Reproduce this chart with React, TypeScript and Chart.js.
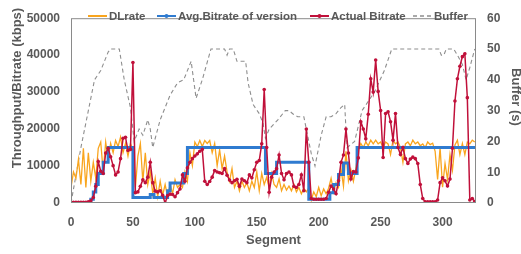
import React, { useEffect, useRef } from "react";
import { Chart, registerables } from "chart.js";

Chart.register(...registerables);

// Segment positions sampled for the noisy series
const segments = [
  0, 2, 4, 6, 8, 10, 12, 14, 16, 18,
  20, 22, 24, 26, 28, 30, 32, 34, 36, 38,
  40, 42, 44, 46, 48, 50, 52, 54, 56, 58,
  60, 62, 64, 66, 68, 70, 72, 74, 76, 78,
  80, 82, 84, 86, 88, 90, 92, 94, 96, 98,
  100, 102, 104, 106, 108, 110, 112, 114, 116, 118,
  120, 122, 124, 126, 128, 130, 132, 134, 136, 138,
  140, 142, 144, 146, 148, 150, 152, 154, 156, 158,
  160, 162, 164, 166, 168, 170, 172, 174, 176, 178,
  180, 182, 184, 186, 188, 190, 192, 194, 196, 198,
  200, 202, 204, 206, 208, 210, 212, 214, 216, 218,
  220, 222, 224, 226, 228, 230, 232, 234, 236, 238,
  240, 242, 244, 246, 248, 250, 252, 254, 256, 258,
  260, 262, 264, 266, 268, 270, 272, 274, 276, 278,
  280, 282, 284, 286, 288, 290, 292, 294, 296, 298,
  300, 302, 304, 306, 308, 310, 312, 314, 316, 318,
  320, 322, 324, 326,
];

// DLrate (kbps)
const dlRate = [
  4200, 8400, 6700, 11800, 5000, 14800, 4200, 13600, 5900, 11000,
  6700, 14800, 16500, 8400, 16500, 11800, 16100, 13600, 16900, 15300,
  17800, 13600, 16100, 12700, 16100, 14400, 4200, 12700, 16100, 5900,
  13600, 5000, 8400, 2500, 6700, 1700, 5900, 2100, 5000, 1700,
  5000, 2500, 6300, 4200, 5000, 4200, 8400, 5900, 13600, 10100,
  16500, 15300, 16900, 15300, 16900, 16100, 16900, 13600, 16100, 10100,
  14400, 9300, 12700, 8400, 5900, 9300, 4200, 5900, 3300, 5900,
  4200, 5500, 3300, 5900, 4200, 8400, 3300, 8000, 5000, 7000,
  4000, 8000, 5000, 4200, 6500, 3300, 5000, 3500, 4600, 3300,
  5000, 3000, 4200, 2500, 4000, 3000, 4000, 800, 3000, 1700,
  4200, 2000, 3800, 2500, 4000, 6700, 3000, 5500, 4200, 9300,
  4500, 14000, 6000, 9000, 5900, 9300, 14400, 16100, 15000, 16500,
  15500, 17000, 16000, 17000, 16000, 16500, 15000, 16500, 16000, 13100,
  17000, 16000, 16500, 15000, 11000, 16000, 16500, 15500, 17000, 16000,
  16500, 15500, 16000, 15000, 16500, 15800, 16200, 14000, 6400, 15000,
  4300, 10700, 6400, 13100, 8900, 15700, 17000, 13100, 16100, 13100,
  16500, 16000, 17000, 16500,
];

// Actual Bitrate (kbps)
const actualBitrate = [
  200, 200, 200, 200, 200, 200, 200, 300, 600, 1500,
  4500, 11200, 8600, 8000, 13500, 14800, 12500, 10100, 7600, 8400,
  12000, 17500, 17800, 14200, 14500, 38000, 2800, 3000, 4500, 6300,
  5500, 7000, 11000, 5500, 3200, 3000, 3300, 2100, 0, 2000,
  2400, 2300, 1700, 2800, 3800, 7600, 5900, 9500, 11000, 12000,
  12700, 13300, 14000, 14500, 5900, 5000, 5800, 7000, 8800, 8400,
  8200, 8000, 9300, 7500, 6200, 5500, 6000, 6400, 4500, 6500,
  6000, 5500, 7600, 6800, 9000, 11000, 11500, 16000, 30700, 15000,
  2900, 7000, 8400, 9300, 13000, 8000, 6300, 8000, 8400, 7600,
  4500, 4200, 5000, 7600, 3300, 20000, 11000, 1200, 1000, 1000,
  1000, 1000, 1000, 1200, 2900, 4600, 3800, 2500, 6000, 11000,
  13000, 20000, 13500, 6500, 8500, 8400, 12200, 22000, 20000, 17400,
  24000, 33600, 30000, 38700, 30200, 25000, 12300, 24200, 24700, 22000,
  17000, 24200, 15000, 13100, 15000, 12000, 10700, 11900, 12400, 12000,
  10700, 5000, 1200, 300, 300, 300, 300, 300, 800, 5500,
  6800, 6000, 4600, 6500, 14800, 27600, 33600, 37000, 39600, 40400,
  28500, 800, 1200, 400,
];

// Avg.Bitrate of version: value holds from each segment until the next one
const avgSegments = [0, 16, 18, 20, 22, 26, 30, 50, 64, 67, 78, 80, 91, 94, 157, 166, 192, 209, 212, 216, 220, 224, 231, 327];
const avgBitrate = [0, 1000, 3000, 5000, 8000, 11000, 15000, 1500, 2300, 1500, 3300, 5400, 8000, 15000, 8000, 11000, 1000, 2800, 5000, 7700, 10800, 8000, 15000, 15000];

// Buffer (s)
const bufferSegments = [
  0, 8, 14, 19, 24, 30, 32, 39, 43, 48,
  51, 55, 58, 62, 64, 66, 72, 80, 86, 91,
  97, 101, 106, 113, 124, 126, 128, 131, 134, 141,
  143, 147, 152, 155, 157, 160, 167, 173, 176, 179,
  183, 188, 191, 194, 197, 202, 206, 210, 214, 218,
  221, 222, 223, 229, 235, 245, 253, 259, 297, 299,
  301, 303, 309, 312, 316, 319, 322, 326,
];
const bufferSeconds = [
  0, 18, 30, 40, 43, 49, 50, 50, 40, 31,
  20, 24, 22, 27, 24, 18, 27, 35, 39, 40,
  46, 34, 40, 50, 50, 48, 50, 50, 46, 46,
  39, 32, 29, 26, 21, 24, 27, 30, 30, 29,
  28, 28, 22, 16, 12, 22, 28, 28, 29, 31,
  32, 24, 18, 20, 30, 36, 43, 50, 50, 48,
  48, 50, 50, 48, 45, 40, 44, 50,
];

const xTickValues = [0, 50, 100, 150, 200, 250, 300];

const leftTitle = "Throughput/Bitrate (kbps)";
const rightTitle = "Buffer (s)";

const ORANGE = "#F9A51E";
const BLUE = "#2F7BD0";
const RED = "#C0103A";
const GRAY = "#8E8E8E";
const TEXT = "#595959";
const FONT = "'Liberation Sans', Arial, sans-serif";

const legendPositions = [88, 157, 310, 413];

const insideLegend = {
  id: "insideLegend",
  afterDraw(chart: any) {
    const ctx = chart.ctx;
    const y = 16;
    ctx.save();
    ctx.font = `bold 11.5px ${FONT}`;
    ctx.textBaseline = "middle";
    ctx.textAlign = "left";
    chart.data.datasets.forEach((ds: any, i: number) => {
      const x = legendPositions[i];
      ctx.strokeStyle = ds.borderColor;
      ctx.lineWidth = ds.legendLineWidth || 2;
      ctx.setLineDash(ds.borderDash || []);
      ctx.beginPath();
      ctx.moveTo(x, y);
      ctx.lineTo(x + 19, y);
      ctx.stroke();
      ctx.setLineDash([]);
      if (ds.legendMarker) {
        ctx.fillStyle = ds.borderColor;
        ctx.beginPath();
        ctx.arc(x + 9.5, y, 2, 0, Math.PI * 2);
        ctx.fill();
      }
      ctx.fillStyle = TEXT;
      ctx.fillText(ds.label, x + 21, y + 0.5);
    });
    // vertical axis titles
    ctx.font = `bold 13px ${FONT}`;
    ctx.textAlign = "center";
    ctx.fillStyle = TEXT;
    ctx.save();
    ctx.translate(17, 88);
    ctx.rotate(-Math.PI / 2);
    ctx.fillText(leftTitle, 0, 0);
    ctx.restore();
    ctx.save();
    ctx.translate(516, 97);
    ctx.rotate(Math.PI / 2);
    ctx.fillText(rightTitle, 0, 0);
    ctx.restore();
    ctx.restore();
  },
};

const framePlugin = {
  id: "frame",
  afterDatasetsDraw(chart: any) {
    const { ctx, chartArea: a } = chart;
    ctx.save();
    ctx.strokeStyle = "#8A8A8A";
    ctx.lineWidth = 1;
    ctx.strokeRect(a.left + 0.5, a.top + 0.5, a.right - a.left - 1, a.bottom - a.top - 1);
    ctx.restore();
  },
};

const plainNumber = (v: any) => String(v);

export default function App() {
  const ref = useRef<HTMLCanvasElement | null>(null);

  useEffect(() => {
    if (!ref.current) return;
    const toPoints = (xs: number[], ys: number[]) => xs.map((x, i) => ({ x, y: ys[i] }));
    const tickFont = { family: FONT, size: 12, weight: "bold" };
    const chart = new Chart(ref.current, {
      type: "line",
      data: {
        datasets: [
          {
            label: "DLrate",
            data: toPoints(segments, dlRate),
            borderColor: ORANGE,
            backgroundColor: ORANGE,
            borderWidth: 1.3,
            pointRadius: 0,
            yAxisID: "y",
            order: 3,
            legendLineWidth: 2,
          } as any,
          {
            label: "Avg.Bitrate of version",
            data: toPoints(avgSegments, avgBitrate),
            borderColor: BLUE,
            backgroundColor: BLUE,
            borderWidth: 3,
            pointRadius: 0,
            stepped: "before",
            yAxisID: "y",
            order: 2,
            legendLineWidth: 2,
            legendMarker: true,
          } as any,
          {
            label: "Actual Bitrate",
            data: toPoints(segments, actualBitrate),
            borderColor: RED,
            backgroundColor: RED,
            borderWidth: 1.5,
            pointRadius: 1.8,
            pointBorderWidth: 0,
            pointBackgroundColor: RED,
            yAxisID: "y",
            order: 1,
            legendLineWidth: 2,
            legendMarker: true,
          } as any,
          {
            label: "Buffer",
            data: toPoints(bufferSegments, bufferSeconds),
            borderColor: GRAY,
            backgroundColor: GRAY,
            borderWidth: 1.1,
            borderDash: [4, 3],
            pointRadius: 0,
            yAxisID: "y1",
            order: 4,
            legendLineWidth: 1.3,
          } as any,
        ],
      },
      options: {
        responsive: false,
        animation: false,
        events: [],
        layout: { padding: { top: 7, left: 0, right: 0, bottom: 0 } },
        plugins: {
          legend: { display: false },
          tooltip: { enabled: false },
        },
        scales: {
          x: {
            type: "linear",
            min: 0,
            max: 327,
            grid: { display: false, drawTicks: false },
            border: { display: false },
            afterFit: (s: any) => {
              s.height = 51;
            },
            afterBuildTicks: (s: any) => {
              s.ticks = xTickValues.map((v) => ({ value: v }));
            },
            ticks: {
              padding: 12,
              maxRotation: 0,
              color: TEXT,
              font: tickFont,
              callback: plainNumber,
            },
            title: {
              display: true,
              text: "Segment",
              color: TEXT,
              padding: { top: 0, bottom: 5.5 },
              font: { family: FONT, size: 13, weight: "bold" },
            },
          },
          y: {
            type: "linear",
            position: "left",
            min: 0,
            max: 50000,
            grid: { display: false, drawTicks: false },
            border: { display: false },
            afterFit: (s: any) => {
              s.width = 71;
            },
            ticks: {
              stepSize: 10000,
              padding: 11,
              color: TEXT,
              font: tickFont,
              callback: plainNumber,
            },
          },
          y1: {
            type: "linear",
            position: "right",
            min: 0,
            max: 60,
            grid: { display: false, drawTicks: false },
            border: { display: false },
            afterFit: (s: any) => {
              s.width = 45;
            },
            ticks: {
              stepSize: 10,
              padding: 11,
              color: TEXT,
              font: tickFont,
              callback: plainNumber,
            },
          },
        },
      } as any,
      plugins: [framePlugin, insideLegend],
    });
    return () => chart.destroy();
  }, []);

  return (
    <div style={{ position: "absolute", left: 0, top: 0, width: 521, height: 254, background: "#fff" }}>
      <canvas ref={ref} width={521} height={254} />
    </div>
  );
}
